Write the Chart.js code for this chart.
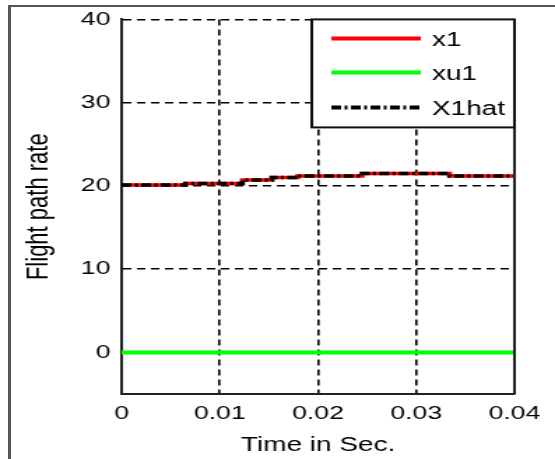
<!DOCTYPE html>
<html>
<head>
<meta charset="utf-8">
<script src="https://cdn.jsdelivr.net/npm/chart.js@4.4.0/dist/chart.umd.min.js"></script>
<style>
html, body { margin: 0; padding: 0; background: #fff; overflow: hidden; }
#frame { position: absolute; left: 8px; top: 5px; width: 600px; height: 500px;
         border-left: 3px solid #555; border-top: 2px solid #555; }
/* the reference figure is stretched sideways, so the chart is drawn narrow and widened */
#wrap { position: absolute; left: 0; top: 0; width: 397px; height: 459px;
        transform: scaleX(1.398); transform-origin: 0 0; }
</style>
</head>
<body>
<div id="frame"></div>
<div id="wrap"><canvas id="chart" width="397" height="459"></canvas></div>
<script>
// times where the held value changes (s)
const timeSteps = [0, 0.0065, 0.0123, 0.0153, 0.0179, 0.0245, 0.0334, 0.04];
const x1Values = [20.1, 20.3, 20.7, 21.0, 21.2, 21.5, 21.2, 21.2];
const x1hatValues = [20.1, 20.3, 20.7, 21.0, 21.2, 21.5, 21.2, 21.2];
const xu1Times = [0, 0.04];
const xu1Values = [0, 0];

const xTicks = [0, 0.01, 0.02, 0.03, 0.04];
const yTicks = [0, 10, 20, 30, 40];
const seriesNames = ["x1", "xu1", "X1hat"];

const FONT = "'Liberation Sans', Arial, sans-serif";
const dashDot = [7, 2.5, 2, 2.5];

function toPoints(xs, ys) {
    return xs.map((x, i) => ({ x: x, y: ys[i] }));
}

// MATLAB style legend box + solid right axis line
const matlabBox = {
    id: "matlabBox",
    afterDraw(chart) {
        const ctx = chart.ctx;
        const a = chart.chartArea;
        ctx.save();
        ctx.strokeStyle = "#222";
        ctx.lineWidth = 2;
        ctx.beginPath();
        ctx.moveTo(a.right, a.top);
        ctx.lineTo(a.right, a.bottom);
        ctx.stroke();

        const w = 145, h = 108;
        const left = a.right - w, top = a.top;
        ctx.fillStyle = "#fff";
        ctx.fillRect(left, top, w, h);
        ctx.strokeStyle = "#111";
        ctx.lineWidth = 2;
        ctx.strokeRect(left, top, w, h);

        const rows = [19, 53, 88];
        chart.data.datasets.forEach((ds, i) => {
            const y = top + rows[i];
            ctx.strokeStyle = ds.borderColor;
            ctx.lineWidth = 4;
            ctx.setLineDash(ds.borderDash || []);
            ctx.beginPath();
            ctx.moveTo(left + 14, y);
            ctx.lineTo(left + 78, y);
            ctx.stroke();
            ctx.setLineDash([]);
            ctx.fillStyle = "#000";
            ctx.font = "20px " + FONT;
            ctx.textBaseline = "middle";
            ctx.fillText(ds.label, left + 86, y + 2);
        });
        ctx.restore();
    }
};

new Chart(document.getElementById("chart"), {
    type: "line",
    data: {
        datasets: [
            { label: seriesNames[0], data: toPoints(timeSteps, x1Values), borderColor: "#ff0000",
              borderWidth: 3.5, stepped: "before", order: 2 },
            { label: seriesNames[1], data: toPoints(xu1Times, xu1Values), borderColor: "#00ff00",
              borderWidth: 4, order: 1 },
            { label: seriesNames[2], data: toPoints(timeSteps, x1hatValues), borderColor: "#000000",
              borderWidth: 3.5, borderDash: dashDot, stepped: "before", order: 0 }
        ]
    },
    options: {
        responsive: false,
        animation: false,
        layout: { padding: { left: 0, right: 29, top: 19, bottom: 0 } },
        elements: { point: { radius: 0 } },
        plugins: { legend: { display: false }, tooltip: { enabled: false } },
        scales: {
            x: {
                type: "linear", min: 0, max: 0.04,
                afterBuildTicks: s => { s.ticks = xTicks.map(v => ({ value: v })); },
                afterFit: s => { s.height = 65; },
                grid: { color: "#000", lineWidth: 1.6, drawTicks: false },
                border: { color: "#222", width: 2, dash: [6, 4] },
                ticks: { color: "#000", padding: 8, font: { family: FONT, size: 19 },
                         maxRotation: 0, callback: v => String(+v.toFixed(2)) },
                title: { display: true, text: "Time in Sec.", color: "#000",
                         font: { family: FONT, size: 20 }, padding: { top: 2, bottom: 2 } }
            },
            y: {
                min: -5, max: 40,
                afterBuildTicks: s => { s.ticks = yTicks.map(v => ({ value: v })); },
                afterFit: s => { s.width = 87; },
                grid: { color: "#000", lineWidth: 1.6, drawTicks: false },
                border: { color: "#222", width: 2, dash: [6, 4] },
                ticks: { color: "#000", padding: 8, font: { family: FONT, size: 19 } },
                title: { display: true, text: "Flight path rate", color: "#000",
                         font: { family: FONT, size: 22 }, padding: { top: 15, bottom: 0 } }
            }
        }
    },
    plugins: [matlabBox]
});
</script>
</body>
</html>
